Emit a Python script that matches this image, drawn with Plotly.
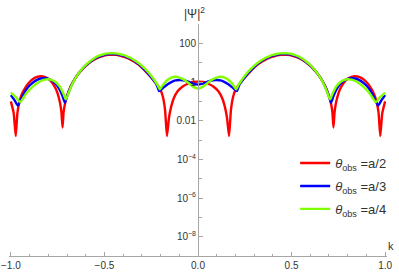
import plotly.graph_objects as go

# ---- data (k, log10 |Psi|^2) ----
red_k = [
    -1.00, -0.985, -0.974, -0.965, -0.955, -0.94, -0.92, -0.90, -0.88, -0.86, -0.84, -0.82, -0.80, -0.78, -0.76, -0.75, -0.738, -0.73, -0.724, -0.718, -0.71, -0.70,
    -0.68, -0.66, -0.64, -0.62, -0.60, -0.58, -0.56, -0.54, -0.52, -0.50, -0.48, -0.46, -0.44, -0.42, -0.40, -0.38, -0.36, -0.34, -0.32, -0.30, -0.28, -0.26, -0.24, -0.22, -0.20,
    -0.188, -0.176, -0.166, -0.155, -0.144, -0.13, -0.108, -0.08, -0.055, -0.03, 0.00,
    0.03, 0.055, 0.08, 0.108, 0.13, 0.144, 0.155, 0.166, 0.176, 0.188,
    0.20, 0.22, 0.24, 0.26, 0.28, 0.30, 0.32, 0.34, 0.36, 0.38, 0.40, 0.42, 0.44, 0.46, 0.48, 0.50, 0.52, 0.54, 0.56, 0.58, 0.60, 0.62, 0.64, 0.66, 0.68,
    0.70, 0.71, 0.718, 0.724, 0.73, 0.738, 0.75, 0.76, 0.78, 0.80, 0.82, 0.84, 0.86, 0.88, 0.90, 0.92, 0.94, 0.955, 0.965, 0.974, 0.985, 1.00]
red_log = [
    -1.0, -1.6, -2.8, -1.6, -1.05, -0.6, -0.25, 0.0, 0.17, 0.27, 0.30, 0.27, 0.17, -0.02, -0.35, -0.6, -1.05, -1.55, -2.35, -1.55, -1.08, -0.72,
    -0.22, 0.13, 0.41, 0.64, 0.83, 0.99, 1.12, 1.23, 1.31, 1.37, 1.40, 1.41, 1.40, 1.37, 1.32, 1.25, 1.16, 1.05, 0.91, 0.74, 0.55, 0.34, 0.12, -0.12, -0.42,
    -0.75, -1.45, -2.8, -1.85, -1.3, -0.85, -0.47, -0.22, -0.09, 0.0, 0.02,
    0.0, -0.09, -0.22, -0.47, -0.85, -1.3, -1.85, -2.8, -1.45, -0.75,
    -0.42, -0.12, 0.12, 0.34, 0.55, 0.74, 0.91, 1.05, 1.16, 1.25, 1.32, 1.37, 1.40, 1.41, 1.40, 1.37, 1.31, 1.23, 1.12, 0.99, 0.83, 0.64, 0.41, 0.13, -0.22,
    -0.72, -1.08, -1.55, -2.35, -1.55, -1.05, -0.6, -0.35, -0.02, 0.17, 0.27, 0.30, 0.27, 0.17, 0.0, -0.25, -0.6, -1.05, -1.6, -2.8, -1.6, -1.0]

blue_k = [
    -1.00, -0.98, -0.962, -0.94, -0.92, -0.90, -0.88, -0.86, -0.84, -0.82, -0.80, -0.78, -0.76, -0.74, -0.725, -0.711, -0.70,
    -0.68, -0.66, -0.64, -0.62, -0.60, -0.58, -0.56, -0.54, -0.52, -0.50, -0.48, -0.46, -0.44, -0.42, -0.40, -0.38, -0.36, -0.34, -0.32, -0.30, -0.28, -0.26, -0.24, -0.22,
    -0.208, -0.195, -0.18, -0.16, -0.14, -0.12, -0.10, -0.08, -0.06, -0.04, -0.02, 0.00,
    0.02, 0.04, 0.06, 0.08, 0.10, 0.12, 0.14, 0.16, 0.18, 0.195, 0.208,
    0.22, 0.24, 0.26, 0.28, 0.30, 0.32, 0.34, 0.36, 0.38, 0.40, 0.42, 0.44, 0.46, 0.48, 0.50, 0.52, 0.54, 0.56, 0.58, 0.60, 0.62, 0.64, 0.66, 0.68,
    0.70, 0.711, 0.725, 0.74, 0.76, 0.78, 0.80, 0.82, 0.84, 0.86, 0.88, 0.90, 0.92, 0.94, 0.962, 0.98, 1.00]
blue_log = [
    -0.68, -0.95, -1.22, -0.78, -0.42, -0.18, -0.01, 0.11, 0.18, 0.20, 0.16, 0.06, -0.10, -0.38, -0.7, -1.07, -0.75,
    -0.25, 0.13, 0.42, 0.66, 0.86, 1.02, 1.16, 1.27, 1.35, 1.41, 1.44, 1.45, 1.44, 1.41, 1.36, 1.29, 1.20, 1.09, 0.95, 0.78, 0.58, 0.37, 0.13, -0.16,
    -0.47, -0.38, -0.25, -0.10, 0.01, 0.08, 0.10, 0.09, 0.04, -0.03, -0.10, -0.13,
    -0.10, -0.03, 0.04, 0.09, 0.10, 0.08, 0.01, -0.10, -0.25, -0.38, -0.47,
    -0.16, 0.13, 0.37, 0.58, 0.78, 0.95, 1.09, 1.20, 1.29, 1.36, 1.41, 1.44, 1.45, 1.44, 1.41, 1.35, 1.27, 1.16, 1.02, 0.86, 0.66, 0.42, 0.13, -0.25,
    -0.75, -1.07, -0.7, -0.38, -0.10, 0.06, 0.16, 0.20, 0.18, 0.11, -0.01, -0.18, -0.42, -0.78, -1.22, -0.95, -0.68]

green_k = [
    -1.00, -0.97, -0.95, -0.935, -0.92, -0.90, -0.88, -0.86, -0.84, -0.82, -0.80, -0.78, -0.76, -0.74, -0.72, -0.706, -0.695,
    -0.68, -0.66, -0.64, -0.62, -0.60, -0.58, -0.56, -0.54, -0.52, -0.50, -0.48, -0.46, -0.44, -0.42, -0.40, -0.38, -0.36, -0.34, -0.32, -0.30, -0.28, -0.26, -0.24,
    -0.23, -0.215, -0.204, -0.195, -0.18, -0.16, -0.14, -0.12, -0.10, -0.08, -0.06, -0.04, -0.02, 0.00,
    0.02, 0.04, 0.06, 0.08, 0.10, 0.12, 0.14, 0.16, 0.18, 0.195, 0.204, 0.215, 0.23,
    0.24, 0.26, 0.28, 0.30, 0.32, 0.34, 0.36, 0.38, 0.40, 0.42, 0.44, 0.46, 0.48, 0.50, 0.52, 0.54, 0.56, 0.58, 0.60, 0.62, 0.64, 0.66, 0.68,
    0.695, 0.706, 0.72, 0.74, 0.76, 0.78, 0.80, 0.82, 0.84, 0.86, 0.88, 0.90, 0.92, 0.935, 0.95, 0.97, 1.00]
green_log = [
    -0.55, -0.82, -1.05, -0.85, -0.62, -0.40, -0.21, -0.06, 0.05, 0.12, 0.14, 0.10, -0.01, -0.22, -0.58, -0.9, -0.65,
    -0.28, 0.12, 0.42, 0.67, 0.88, 1.05, 1.19, 1.31, 1.39, 1.45, 1.48, 1.49, 1.48, 1.45, 1.40, 1.33, 1.24, 1.13, 1.00, 0.84, 0.65, 0.44, 0.19,
    0.05, -0.18, -0.38, -0.26, -0.06, 0.13, 0.24, 0.27, 0.23, 0.15, 0.02, -0.14, -0.28, -0.34,
    -0.28, -0.14, 0.02, 0.15, 0.23, 0.27, 0.24, 0.13, -0.06, -0.26, -0.38, -0.18, 0.05,
    0.19, 0.44, 0.65, 0.84, 1.00, 1.13, 1.24, 1.33, 1.40, 1.45, 1.48, 1.49, 1.48, 1.45, 1.39, 1.31, 1.19, 1.05, 0.88, 0.67, 0.42, 0.12, -0.28,
    -0.65, -0.9, -0.58, -0.22, -0.01, 0.10, 0.14, 0.12, 0.05, -0.06, -0.21, -0.40, -0.62, -0.85, -1.05, -0.82, -0.55]

series_names = ["<i>θ</i><sub>obs</sub> =a/2", "<i>θ</i><sub>obs</sub> =a/3", "<i>θ</i><sub>obs</sub> =a/4"]
series_colors = ["#FF0000", "#0000FF", "#80FF00"]

x_tick_vals = [-1.0, -0.5, 0.0, 0.5, 1.0]
x_tick_text = ["−1.0", "−0.5", "0.0", "0.5", "1.0"]
x_minor_vals = [-0.9, -0.8, -0.7, -0.6, -0.4, -0.3, -0.2, -0.1, 0.1, 0.2, 0.3, 0.4, 0.6, 0.7, 0.8, 0.9]
y_tick_vals = [1e-8, 1e-6, 1e-4, 1e-2, 1, 100]
y_tick_text = ["10<sup>−8</sup>", "10<sup>−6</sup>", "10<sup>−4</sup>", "0.01", "1", "100"]
y_minor_vals = [1e-9, 1e-7, 1e-5, 1e-3, 1e-1, 10, 1000]

assert len(red_k) == len(red_log)
assert len(blue_k) == len(blue_log)
assert len(green_k) == len(green_log)

AX = "#a6a6a6"
TXT = "#333333"
FONT = "Liberation Sans, Arial, sans-serif"

fig = go.Figure()
for i, (kk, lv) in enumerate([(red_k, red_log), (blue_k, blue_log), (green_k, green_log)]):
    fig.add_trace(go.Scatter(
        x=kk, y=[10 ** v for v in lv], mode="lines", name=series_names[i],
        legendgroup="g%d" % i,
        line=dict(color=series_colors[i], width=2.4, shape="spline", smoothing=0.5),
    ))

fig.update_layout(
    width=399, height=273,
    margin=dict(l=9, r=12, t=24, b=17, autoexpand=False),
    paper_bgcolor="white", plot_bgcolor="white",
    font=dict(family=FONT, size=10, color=TXT),
    showlegend=True,
    legend=dict(x=0.757, y=0.465, xanchor="left", yanchor="top",
                font=dict(size=13, color=TXT), bgcolor="rgba(0,0,0,0)",
                tracegroupgap=3),
    xaxis=dict(range=[-1.01, 1.01], showgrid=False, zeroline=False, automargin=False,
               showline=True, linecolor=AX, linewidth=1,
               ticks="inside", ticklen=4, tickcolor=AX, tickwidth=1,
               tickmode="array", tickvals=x_tick_vals, ticktext=x_tick_text,
               tickfont=dict(size=10, color=TXT),
               minor=dict(tickmode="array", tickvals=x_minor_vals, ticks="inside",
                          ticklen=2.5, tickcolor=AX, showgrid=False)),
    yaxis=dict(type="log", range=[-9, 3], showgrid=False, zeroline=False, automargin=False,
               anchor="free", position=0.5,
               showline=True, linecolor=AX, linewidth=1,
               ticks="inside", ticklen=4, tickcolor=AX, tickwidth=1,
               tickmode="array", tickvals=y_tick_vals, ticktext=y_tick_text,
               tickfont=dict(size=10, color=TXT),
               minor=dict(tickmode="array", tickvals=y_minor_vals, ticks="inside",
                          ticklen=2.5, tickcolor=AX, showgrid=False)),
    annotations=[
        dict(text="|Ψ|<sup>2</sup>", x=0, xref="x", y=1, yref="paper",
             xanchor="center", yanchor="bottom", xshift=-4, yshift=1,
             showarrow=False, font=dict(size=12, color=TXT)),
        dict(text="k", x=1, xref="paper", y=0, yref="paper",
             xanchor="left", yanchor="bottom", xshift=-1, yshift=2,
             showarrow=False, font=dict(size=11, color=TXT)),
    ],
)

fig.write_html("out.html",
               config={"displayModeBar": False},
               post_script="document.body.style.margin='0';document.body.style.padding='0';")
